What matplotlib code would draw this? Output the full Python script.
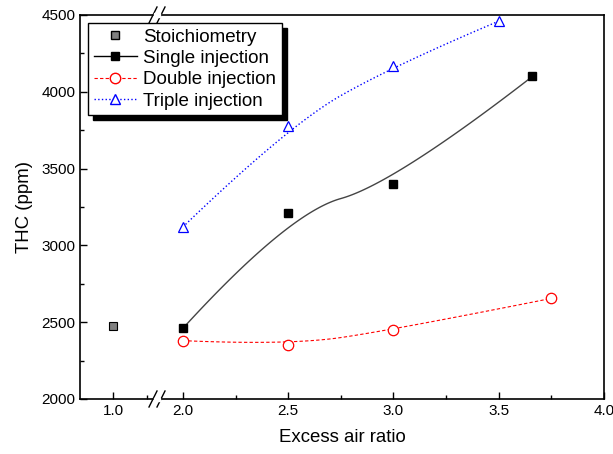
import numpy as np
import matplotlib.pyplot as plt
from matplotlib.patches import Rectangle
from matplotlib.lines import Line2D
from matplotlib.ticker import MultipleLocator

plt.rcParams['font.family'] = ['Liberation Sans', 'DejaVu Sans']

# data
stoich_x = [1.0]
stoich_y = [2475]

single_x = [2.0, 2.5, 3.0, 3.66]
single_y = [2460, 3210, 3400, 4100]

double_x = [2.0, 2.5, 3.0, 3.75]
double_y = [2380, 2350, 2450, 2655]

triple_x = [2.0, 2.5, 3.0, 3.5]
triple_y = [3120, 3780, 4170, 4460]


def bspline(xs, ys, n=60):
    # clamped quadratic B-spline with the data points as control points
    pts = np.column_stack([xs, ys]).astype(float)
    mids = (pts[1:-2] + pts[2:-1]) / 2
    starts = np.vstack([pts[:1], mids])
    ends = np.vstack([mids, pts[-1:]])
    s = np.linspace(0, 1, n)[:, None]
    out = []
    for a, c, b in zip(starts, pts[1:-1], ends):
        out.append((1 - s)**2 * a + 2 * s * (1 - s) * c + s**2 * b)
    out = np.vstack(out)
    return out[:, 0], out[:, 1]


W, H = 613, 454
fig = plt.figure(figsize=(W / 100, H / 100), dpi=100)

x_left, x_split, x_right = 80, 157, 604
y_top, y_bot = 15, 399
bottom = 1 - y_bot / H
height = (y_bot - y_top) / H

ax1 = fig.add_axes([x_left / W, bottom, (x_split - x_left) / W, height])
ax2 = fig.add_axes([x_split / W, bottom, (x_right - x_split) / W, height], sharey=ax1)

ax1.set_xlim(0.757, 1.324)
ax2.set_xlim(1.877, 4.0)
ax1.set_ylim(2000, 4500)

# plots
ax1.plot(stoich_x, stoich_y, 's', color='#808080', mec='black', mew=0.8, ms=6)

sx, sy = bspline(single_x, single_y)
ax2.plot(sx, sy, '-', color='#444444', lw=1.0)
ax2.plot(single_x, single_y, 's', color='black', ms=6)

dx, dy = bspline(double_x, double_y)
ax2.plot(dx, dy, '--', color='red', lw=0.8, dashes=(3, 2))
ax2.plot(double_x, double_y, 'o', mfc='white', mec='red', ms=7.5, mew=0.9)

tx, ty = bspline(triple_x, triple_y)
ax2.plot(tx, ty, ':', color='blue', lw=1.0)
ax2.plot(triple_x, triple_y, '^', mfc='white', mec='blue', ms=7.5, mew=0.9)

# spines and ticks
for ax in (ax1, ax2):
    for s in ax.spines.values():
        s.set_linewidth(1.2)
    ax.tick_params(which='both', direction='in', top=False, right=False,
                   labelsize=11, width=1.0)
    ax.tick_params(which='major', length=5)
    ax.tick_params(which='minor', length=3)

ax1.spines['right'].set_visible(False)
ax2.spines['left'].set_visible(False)
ax2.tick_params(axis='y', which='both', left=False, labelleft=False)

ax1.xaxis.set_minor_locator(MultipleLocator(0.25))
ax1.set_xticks([1.0])
ax1.set_xticklabels(['1.0'])
ax2.xaxis.set_major_locator(MultipleLocator(0.5))
ax2.xaxis.set_minor_locator(MultipleLocator(0.25))
ax2.xaxis.set_major_formatter(plt.FormatStrFormatter('%.1f'))
ax1.yaxis.set_major_locator(MultipleLocator(500))
ax1.yaxis.set_minor_locator(MultipleLocator(250))

ax1.set_ylabel('THC (ppm)', fontsize=13.4, labelpad=6)
fig.text((x_left + x_right) / 2 / W, 1 - 438 / H, 'Excess air ratio',
         ha='center', va='center', fontsize=13.4)

# axis break marks
for yb in (y_top, y_bot):
    for off in (-4, 4):
        xc = x_split + off
        fig.add_artist(Line2D([(xc - 4) / W, (xc + 4) / W],
                              [1 - (yb + 8) / H, 1 - (yb - 8) / H],
                              color='black', lw=1.0))
    fig.add_artist(Rectangle(((x_split - 3) / W, 1 - (yb + 1.5) / H), 6 / W, 3 / H,
                             color='white', zorder=3))

# legend
handles = [
    Line2D([], [], ls='none', marker='s', color='#808080', mec='black', ms=6),
    Line2D([], [], ls='-', color='black', marker='s', ms=6, lw=1.0),
    Line2D([], [], ls='--', color='red', marker='o', mfc='white', mec='red', ms=7.5, lw=0.8, dashes=(3, 2)),
    Line2D([], [], ls=':', color='blue', marker='^', mfc='white', mec='blue', ms=7.5, lw=1.0),
]
labels = ['Stoichiometry', 'Single injection', 'Double injection', 'Triple injection']
leg = fig.legend(handles, labels, loc='upper left',
                 bbox_to_anchor=(88 / W, 1 - 23 / H), fontsize=13.5,
                 frameon=True, fancybox=False, edgecolor='black', framealpha=1,
                 borderpad=0.3, labelspacing=0.22, handlelength=2.3,
                 handletextpad=0.35, borderaxespad=0)
leg.get_frame().set_linewidth(1.0)
leg.set_zorder(6)

fig.canvas.draw()
bb = leg.get_window_extent()
fig.add_artist(Rectangle(((bb.x0 + 5) / W, (bb.y0 - 5) / H), bb.width / W, bb.height / H,
                         color='black', zorder=5))

fig.savefig('out.png', dpi=100)
